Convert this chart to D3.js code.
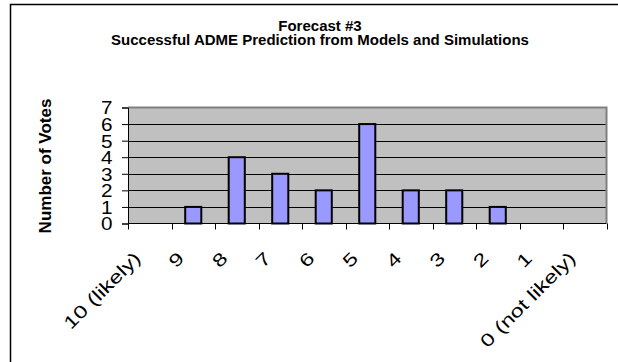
<!DOCTYPE html>
<html>
<head>
<meta charset="utf-8">
<script src="https://cdn.jsdelivr.net/npm/d3@7"></script>
<style>
  html, body { margin: 0; padding: 0; background: #fff; }
  svg { display: block; font-family: "Liberation Sans", Arial, sans-serif; }
</style>
</head>
<body>
<svg id="chart" width="618" height="362"></svg>
<script>
// Vote categories, from most to least likely
const categories = ["10 (likely)", "9", "8", "7", "6", "5", "4", "3", "2", "1", "0 (not likely)"];
// Number of votes per category
const votes = [0, 1, 4, 3, 2, 6, 2, 2, 1, 0, 0];
// Y axis tick values
const yTicks = [0, 1, 2, 3, 4, 5, 6, 7];
const titleLines = ["Forecast #3", "Successful ADME Prediction from Models and Simulations"];
const yAxisTitle = "Number of Votes";

const svg = d3.select("#chart");
const W = 618, H = 362;
const plot = { left: 128, right: 606.5, top: 107.5, bottom: 223.5 };

// Outer chart frame (top and left edges visible)
svg.append("path")
  .attr("d", `M10.5,${H} L10.5,4.5 L${W},4.5`)
  .attr("fill", "none").attr("stroke", "#000").attr("stroke-width", 1.5);

// Title
const title = svg.append("text")
  .attr("text-anchor", "middle")
  .attr("font-weight", "bold")
  .attr("font-size", "15px")
  .attr("fill", "#000");
titleLines.forEach((t, i) => {
  title.append("tspan").attr("x", 320).attr("y", 31 + i * 14).text(t);
});

const x = d3.scaleBand().domain(categories).range([plot.left, plot.right]).padding(0);
const y = d3.scaleLinear().domain([0, 7]).range([plot.bottom, plot.top]);

// Plot background
svg.append("rect")
  .attr("x", plot.left).attr("y", plot.top)
  .attr("width", plot.right - plot.left).attr("height", plot.bottom - plot.top)
  .attr("fill", "#c0c0c0");

// Horizontal gridlines
svg.append("g").selectAll("line")
  .data(yTicks.filter(v => v > 0 && v < 7))
  .join("line")
  .attr("x1", plot.left).attr("x2", plot.right)
  .attr("y1", d => Math.round(y(d)) + 0.5).attr("y2", d => Math.round(y(d)) + 0.5)
  .attr("stroke", "#000").attr("stroke-width", 1);

// Top and right plot border
svg.append("path")
  .attr("d", `M${plot.left},${plot.top} L${plot.right},${plot.top} L${plot.right},${plot.bottom}`)
  .attr("fill", "none").attr("stroke", "#808080").attr("stroke-width", 2);

// Bars
const barW = x.bandwidth() * 0.37;
svg.append("g").selectAll("rect")
  .data(categories.map((c, i) => ({ c, v: votes[i] })).filter(d => d.v > 0))
  .join("rect")
  .attr("x", d => x(d.c) + x.bandwidth() / 2 - barW / 2)
  .attr("y", d => y(d.v))
  .attr("width", barW)
  .attr("height", d => y(0) - y(d.v))
  .attr("fill", "#9999ff")
  .attr("stroke", "#000")
  .attr("stroke-width", 2);

// Y axis
const yAxis = d3.axisLeft(y).tickValues(yTicks).tickSize(6).tickFormat(d3.format("d"));
const gy = svg.append("g").attr("transform", `translate(${plot.left},0)`).call(yAxis);
gy.select(".domain").attr("stroke", "#000");
gy.selectAll(".tick line").attr("stroke", "#000");
gy.selectAll(".tick text").remove();
gy.selectAll(".tick").append("text")
  .attr("transform", "translate(-15.5,0) scale(1.15,1)")
  .attr("text-anchor", "end")
  .attr("dy", "0.36em")
  .attr("font-size", "18px")
  .attr("fill", "#000")
  .text(d => d);

// X axis with ticks at band boundaries
const xEdges = d3.range(categories.length + 1).map(i => plot.left + i * x.step());
const gx = svg.append("g");
gx.append("line")
  .attr("x1", plot.left).attr("x2", plot.right)
  .attr("y1", plot.bottom).attr("y2", plot.bottom)
  .attr("stroke", "#000");
gx.selectAll("line.tk").data(xEdges).join("line").attr("class", "tk")
  .attr("x1", d => Math.round(d) + 0.5).attr("x2", d => Math.round(d) + 0.5)
  .attr("y1", plot.bottom).attr("y2", plot.bottom + 6)
  .attr("stroke", "#000");

// Rotated category labels
gx.selectAll("text").data(categories).join("text")
  .attr("transform", d => `translate(${x(d) + x.bandwidth() / 2 - 8},${plot.bottom + 36}) rotate(-45) scale(1.3,1)`)
  .attr("text-anchor", "end")
  .attr("font-size", "18px")
  .attr("fill", "#000")
  .text(d => d);

// Y axis title
svg.append("text")
  .attr("transform", `translate(50.5,${(plot.top + plot.bottom) / 2 + 0.5}) rotate(-90)`)
  .attr("text-anchor", "middle")
  .attr("font-weight", "bold")
  .attr("font-size", "17px")
  .attr("fill", "#000")
  .text(yAxisTitle);
</script>
</body>
</html>
